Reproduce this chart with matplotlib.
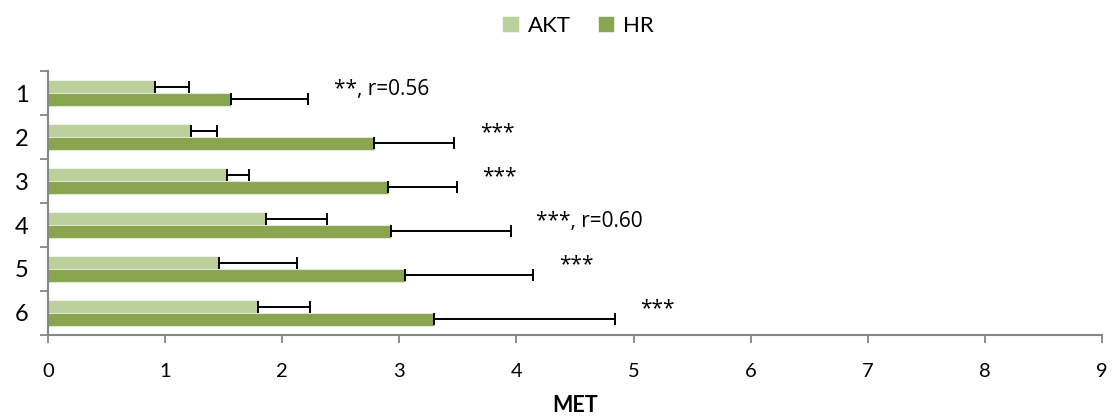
import numpy as np
import matplotlib.pyplot as plt

plt.rcParams['font.family'] = ['Lato', 'DejaVu Sans']

categories = ['1', '2', '3', '4', '5', '6']
akt = [0.91, 1.22, 1.53, 1.86, 1.46, 1.79]
akt_err = [0.29, 0.22, 0.19, 0.52, 0.67, 0.45]
hr = [1.56, 2.78, 2.90, 2.93, 3.05, 3.30]
hr_err = [0.66, 0.69, 0.59, 1.02, 1.09, 1.54]
notes = ['**, r=0.56', '***', '***', '***, r=0.60', '***', '***']

c_akt = '#bbd09a'
c_hr = '#8aa54f'
grey = '#868686'

fig = plt.figure(figsize=[11.14, 4.19], dpi=100)
fig.subplots_adjust(left=0.0431, right=0.9892, top=0.8305, bottom=0.2005)
ax = plt.subplot(1, 1, 1)

y = np.arange(len(categories))
h = 0.285
zeros = np.zeros(len(categories))
ax.barh(y - h/2, akt, height=h, color=c_akt, edgecolor='white', linewidth=0.4, label='AKT',
        xerr=[zeros, akt_err], error_kw=dict(ecolor='black', elinewidth=1.4, capsize=4.3, capthick=1.4))
ax.barh(y + h/2, hr, height=h, color=c_hr, edgecolor='white', linewidth=0.4, label='HR',
        xerr=[zeros, hr_err], error_kw=dict(ecolor='black', elinewidth=1.4, capsize=4.3, capthick=1.4))

for i in range(len(categories)):
    ax.text(hr[i] + hr_err[i] + 0.22, y[i] - 0.09, notes[i], fontsize=15, va='center', ha='left',
            family=['Open Sans', 'DejaVu Sans'])

ax.set_xlim(0, 9)
ax.set_ylim(len(categories) - 0.5, -0.5)
ax.set_xticks(np.arange(0, 10, 1))
ax.set_yticks(y)
ax.set_yticklabels(categories)
ax.set_yticks(np.arange(-0.5, len(categories), 1), minor=True)
ax.tick_params(axis='y', which='major', length=0, labelsize=17, pad=14)
ax.tick_params(axis='y', which='minor', length=6, width=1.3, color=grey, direction='out')
ax.tick_params(axis='x', length=6, width=1.3, color=grey, direction='out', labelsize=14.5, pad=14)
for s in ['top', 'right']:
    ax.spines[s].set_visible(False)
for s in ['left', 'bottom']:
    ax.spines[s].set_color(grey)
    ax.spines[s].set_linewidth(1.5)
ax.set_xlabel('MET', fontsize=15.5, fontweight='bold', labelpad=11)

handles, labels = ax.get_legend_handles_labels()
fig.legend(handles, labels, loc='upper center', bbox_to_anchor=(0.519, 1.01), ncol=2, frameon=False,
           fontsize=16, handlelength=0.75, handleheight=0.75, handletextpad=0.4, columnspacing=1.2)

plt.savefig('out.png', dpi=100)
